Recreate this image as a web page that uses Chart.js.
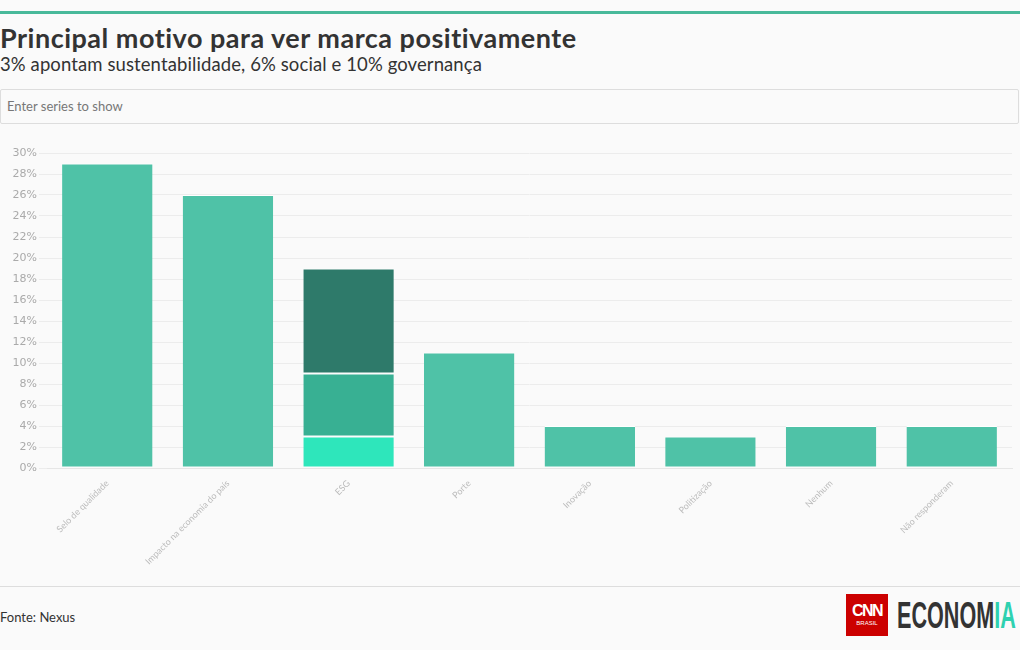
<!DOCTYPE html>
<html>
<head>
<meta charset="utf-8">
<script src="https://cdn.jsdelivr.net/npm/chart.js@4"></script>
<style>
  body { margin: 0; background: #fafafa; font-family: Lato, "Open Sans", sans-serif; width: 1020px; height: 650px; overflow: hidden; position: relative; }
  .topline { position: absolute; left: 0; top: 11px; width: 1020px; height: 3px; background: #48b99a; }
  h1 { position: absolute; left: 0; top: 21px; margin: 0; font-size: 27px; font-weight: 700; color: #333; letter-spacing: 0.5px; }
  h2 { position: absolute; left: 0; top: 53px; margin: 0; font-size: 18.5px; font-weight: 400; color: #333; letter-spacing: 0.1px; }
  .search { position: absolute; left: 0; top: 89px; width: 1017px; height: 33px; border: 1px solid #ddd; border-radius: 2px; background: #fafafa; box-sizing: content-box; }
  .search span { position: absolute; left: 6px; top: 8px; font-size: 13px; color: #777; }
  .wrap { position: absolute; left: 0; top: 140px; width: 1020px; height: 439px; }
  .footline { position: absolute; left: 0; top: 586px; width: 1020px; height: 1px; background: #ddd; }
  .fonte { position: absolute; left: 0; top: 609px; font-size: 13px; color: #333; }
  .cnn { position: absolute; left: 846px; top: 594px; width: 42px; height: 42px; background: #cc0000; color: #fff; text-align: center; font-family: "Liberation Sans", sans-serif; }
  .cnn b { display: block; font-size: 16px; line-height: 17px; margin-top: 8px; letter-spacing: -1.5px; }
  .cnn i { display: block; font-style: normal; font-size: 6px; line-height: 8px; }
  .eco { position: absolute; left: 897px; top: 596px; font-family: "Liberation Sans", sans-serif; font-weight: 700; font-size: 36px; line-height: 40px; color: #333; white-space: nowrap; transform: scaleX(0.6); transform-origin: left top; }
  .eco em { font-style: normal; color: #2ed1b0; }
</style>
</head>
<body>
<div class="topline"></div>
<h1>Principal motivo para ver marca positivamente</h1>
<h2>3% apontam sustentabilidade, 6% social e 10% governança</h2>
<div class="search"><span>Enter series to show</span></div>
<div class="wrap"><canvas id="chart"></canvas></div>
<div class="footline"></div>
<div class="fonte">Fonte: Nexus</div>
<div class="cnn"><b>CNN</b><i>BRASIL</i></div>
<div class="eco">ECONOM<em>IA</em></div>
<script>
const categories = ["Selo de qualidade", "Impacto na economia do país", "ESG", "Porte", "Inovação", "Politização", "Nenhum", "Não responderam"];
const motivo = [29, 26, null, 11, 4, 3, 4, 4];
const sustentabilidade = [null, null, 3, null, null, null, null, null];
const social = [null, null, 6, null, null, null, null, null];
const governanca = [null, null, 10, null, null, null, null, null];
const yTicks = [0, 2, 4, 6, 8, 10, 12, 14, 16, 18, 20, 22, 24, 26, 28, 30];

function ds(label, data, color) {
  return {
    label: label,
    data: data,
    backgroundColor: color,
    borderColor: "#ffffff",
    borderWidth: { top: 1, bottom: 1, left: 0, right: 0 },
    borderSkipped: false,
    barPercentage: 0.75,
    categoryPercentage: 1,
  };
}

new Chart(document.getElementById("chart"), {
  type: "bar",
  data: {
    labels: categories,
    datasets: [
      ds("Motivo", motivo, "#4fc2a7"),
      ds("Sustentabilidade", sustentabilidade, "#2ee6bb"),
      ds("Social", social, "#38b093"),
      ds("Governança", governanca, "#2e7a6a"),
    ],
  },
  options: {
    responsive: true,
    maintainAspectRatio: false,
    animation: false,
    layout: { padding: { top: 13, right: 8, left: 0, bottom: 0 } },
    plugins: {
      legend: { display: false },
      tooltip: { enabled: false },
    },
    scales: {
      x: {
        stacked: true,
        grid: { display: false },
        border: { color: "#e6e6e6" },
        ticks: {
          color: "#bbbbbb",
          font: { family: "Lato", size: 9 },
          minRotation: 45,
          maxRotation: 45,
          padding: 2,
        },
        afterFit: (axis) => { axis.height = 111; },
      },
      y: {
        stacked: true,
        min: 0,
        max: 30,
        afterBuildTicks: (axis) => { axis.ticks = yTicks.map((v) => ({ value: v })); },
        grid: { color: "#ececec", drawTicks: true, tickLength: 8 },
        border: { display: false },
        ticks: {
          color: "#aaaaaa",
          font: { family: "DejaVu Sans", size: 11 },
          padding: 2,
          callback: (v) => v + "%",
        },
        afterFit: (axis) => { axis.width = 47; },
      },
    },
  },
});
</script>
</body>
</html>
